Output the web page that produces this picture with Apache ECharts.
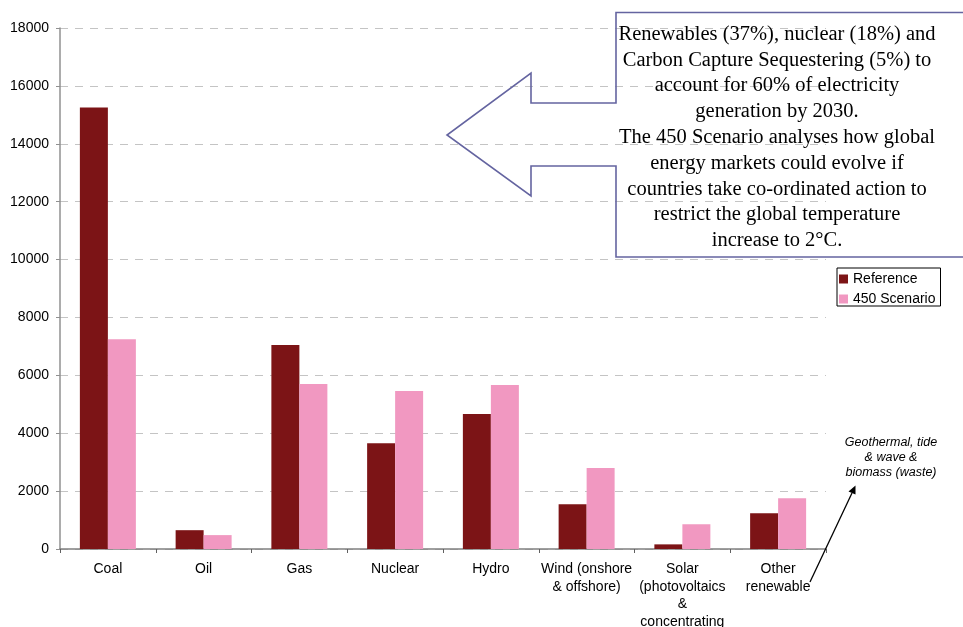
<!DOCTYPE html>
<html>
<head>
<meta charset="utf-8">
<style>
  html, body { margin: 0; padding: 0; background: #ffffff; }
  #chart { width: 963px; height: 627px; }
</style>
<script src="https://cdn.jsdelivr.net/npm/echarts@6/dist/echarts.min.js"></script>
</head>
<body>
<div id="chart"></div>
<script>
// Electricity generation by source in 2030 (TWh): Reference vs 450 Scenario
const categories = [
  'Coal', 'Oil', 'Gas', 'Nuclear', 'Hydro',
  'Wind (onshore\n& offshore)',
  'Solar\n(photovoltaics\n&\nconcentrating',
  'Other\nrenewable'
];
const referenceValues = [15250, 650, 7050, 3650, 4660, 1550, 160, 1235];
const scenario450Values = [7250, 480, 5700, 5460, 5670, 2800, 855, 1750];
const yTicks = { min: 0, max: 18000, interval: 2000 };

const calloutLines = [
  'Renewables (37%), nuclear (18%) and',
  'Carbon Capture Sequestering (5%) to',
  'account for 60% of electricity',
  'generation by 2030.',
  'The 450 Scenario analyses how global',
  'energy markets could evolve if',
  'countries take co-ordinated action to',
  'restrict the global temperature',
  'increase to 2°C.'
];
const noteLines = ['Geothermal, tide', '& wave &', 'biomass (waste)'];

const FONT = 'Liberation Sans, Arial, sans-serif';
const chart = echarts.init(document.getElementById('chart'), null, { renderer: 'canvas' });

chart.setOption({
  animation: false,
  backgroundColor: '#ffffff',
  grid: {
    left: 60, right: 137, top: 28, bottom: 78,
    containLabel: false,
    outerBoundsMode: 'none'
  },
  legend: {
    orient: 'vertical',
    left: 837,
    top: 268,
    icon: 'rect',
    itemWidth: 9,
    itemHeight: 9,
    itemGap: 6,
    padding: [4, 5, 0, 2],
    borderColor: '#000000',
    borderWidth: 1,
    textStyle: { fontFamily: FONT, fontSize: 14, color: '#000000' },
    data: ['Reference', '450 Scenario']
  },
  xAxis: {
    type: 'category',
    data: categories,
    boundaryGap: true,
    axisLine: { lineStyle: { color: '#808080', width: 1.5 } },
    axisTick: { show: true, length: 4, lineStyle: { color: '#606060' } },
    axisLabel: {
      interval: 0,
      margin: 11,
      fontFamily: FONT,
      fontSize: 14,
      lineHeight: 17.8,
      color: '#000000',
      align: 'center'
    },
    splitLine: { show: false }
  },
  yAxis: {
    type: 'value',
    min: yTicks.min,
    max: yTicks.max,
    interval: yTicks.interval,
    axisLine: { show: true, lineStyle: { color: '#909090', width: 1.5 } },
    axisTick: { show: true, length: 4, lineStyle: { color: '#909090' } },
    axisLabel: {
      margin: 11,
      fontFamily: FONT,
      fontSize: 14,
      color: '#000000',
      formatter: function (v) { return String(v); }
    },
    splitLine: { show: true, lineStyle: { color: '#c4c4c4', type: [8, 7], width: 1 } }
  },
  series: [
    {
      name: 'Reference',
      type: 'bar',
      data: referenceValues,
      barWidth: 28,
      barGap: '0%',
      itemStyle: { color: '#7c1416' }
    },
    {
      name: '450 Scenario',
      type: 'bar',
      data: scenario450Values,
      barWidth: 28,
      barGap: '0%',
      itemStyle: { color: '#f198c1' }
    }
  ],
  graphic: [
    // Left-pointing block arrow framing the explanatory text
    {
      type: 'polyline',
      silent: true,
      z: 10,
      shape: {
        points: [
          [970, 12.5], [616, 12.5], [616, 103], [531, 103], [531, 73],
          [447, 135], [531, 196], [531, 166], [616, 166], [616, 257], [970, 257]
        ]
      },
      style: { stroke: '#6464a0', lineWidth: 1.6, fill: null }
    },
    {
      type: 'text',
      silent: true,
      z: 11,
      x: 777,
      y: 21.5,
      style: {
        text: calloutLines.join('\n'),
        font: '20.5px "Liberation Serif", "Times New Roman", serif',
        fill: '#000000',
        align: 'center',
        verticalAlign: 'top',
        lineHeight: 25.8
      }
    },
    // Italic footnote for "Other renewable"
    {
      type: 'text',
      silent: true,
      z: 11,
      x: 891,
      y: 435,
      style: {
        text: noteLines.join('\n'),
        font: 'italic 12.5px "Liberation Sans", Arial, sans-serif',
        fill: '#000000',
        align: 'center',
        verticalAlign: 'top',
        lineHeight: 15
      }
    },
    {
      type: 'line',
      silent: true,
      z: 11,
      shape: { x1: 810, y1: 582, x2: 852, y2: 493 },
      style: { stroke: '#000000', lineWidth: 1.3 }
    },
    {
      type: 'polygon',
      silent: true,
      z: 11,
      shape: { points: [[855.5, 485.5], [848.5, 491.5], [855.5, 494.5]] },
      style: { fill: '#000000' }
    }
  ]
});
</script>
</body>
</html>
